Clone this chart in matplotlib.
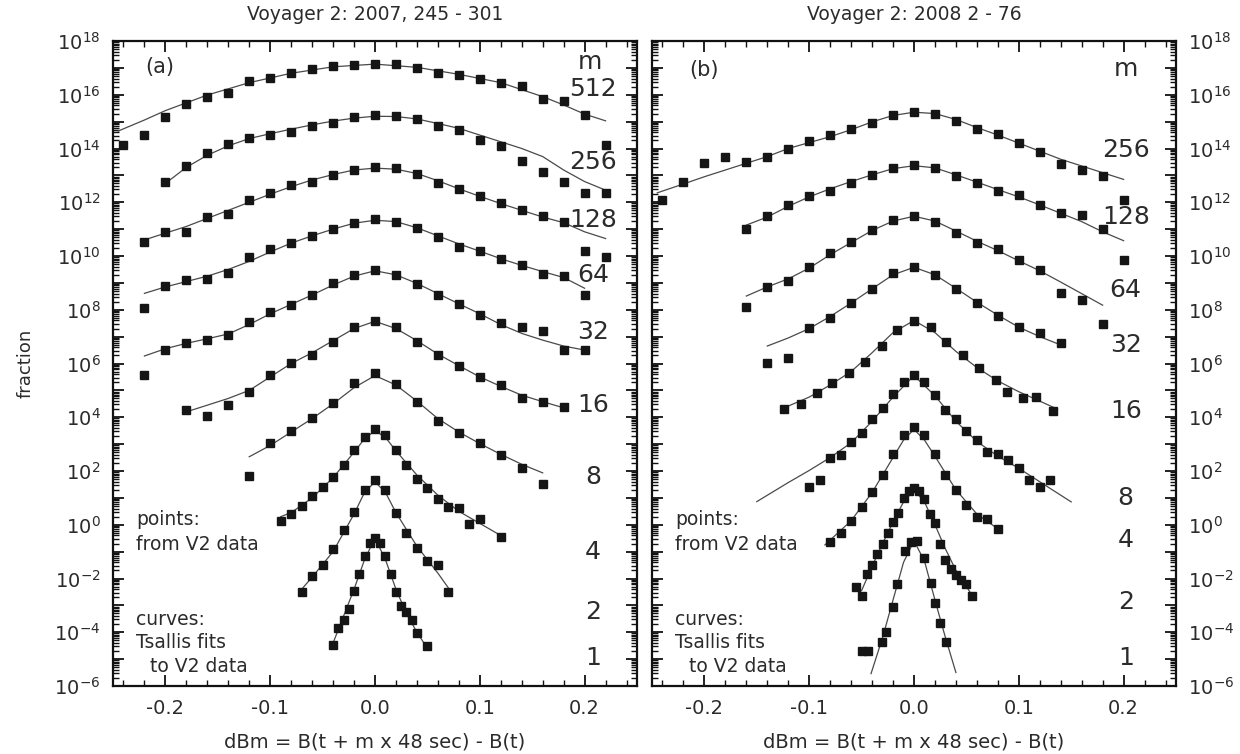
import numpy as np
import matplotlib
matplotlib.use("Agg")
import matplotlib.pyplot as plt
from matplotlib.ticker import LogLocator, MultipleLocator, FuncFormatter, NullFormatter

# values are log10(fraction)
# ---- panel (a): Voyager 2, 2007 day 245-301 ----
a512_px = [-0.24,-0.22,-0.20,-0.18,-0.16,-0.14,-0.12,-0.10,-0.08,-0.06,-0.04,-0.02,0.00,0.02,0.04,0.06,0.08,0.10,0.12,0.14,0.16,0.18,0.20,0.22]
a512_py = [14.13,14.50,15.16,15.66,15.93,16.05,16.52,16.61,16.80,16.95,17.07,17.11,17.14,17.14,16.98,16.82,16.73,16.57,16.45,16.32,15.85,15.77,15.25,14.13]
a512_cx = [-0.245,-0.22,-0.20,-0.16,-0.12,-0.08,-0.04,0.00,0.04,0.08,0.12,0.16,0.18,0.20,0.22]
a512_cy = [14.65,15.06,15.41,15.99,16.45,16.80,17.04,17.14,17.02,16.76,16.45,15.93,15.62,15.28,15.03]

a256_px = [-0.20,-0.18,-0.16,-0.14,-0.12,-0.10,-0.08,-0.06,-0.04,-0.02,0.00,0.02,0.04,0.06,0.08,0.10,0.12,0.14,0.16,0.18,0.20,0.22]
a256_py = [12.76,13.35,13.84,14.17,14.38,14.50,14.63,14.84,14.96,15.16,15.25,15.21,15.08,14.84,14.69,14.32,14.09,13.55,13.14,12.76,12.33,12.33]
a256_cx = [-0.20,-0.18,-0.16,-0.14,-0.12,-0.10,-0.08,-0.06,-0.04,-0.02,0.00,0.02,0.04,0.06,0.08,0.10,0.12,0.14,0.16,0.18,0.20,0.22]
a256_cy = [12.70,13.30,13.75,14.10,14.37,14.55,14.72,14.88,15.02,15.13,15.20,15.19,15.10,14.93,14.75,14.50,14.25,14.00,13.70,13.20,12.77,12.45]

a128_px = [-0.22,-0.20,-0.18,-0.16,-0.14,-0.12,-0.10,-0.08,-0.06,-0.04,-0.02,0.00,0.02,0.04,0.06,0.08,0.10,0.12,0.14,0.16,0.18,0.20,0.22]
a128_py = [10.53,10.90,10.90,11.46,11.56,12.08,12.35,12.64,12.76,13.01,13.20,13.30,13.26,13.05,12.73,12.48,12.23,11.96,11.73,11.49,11.28,10.20,9.97]
a128_cx = [-0.22,-0.20,-0.18,-0.16,-0.14,-0.12,-0.10,-0.08,-0.06,-0.04,-0.02,0.00,0.02,0.04,0.06,0.08,0.10,0.12,0.14,0.16,0.18,0.20,0.22]
a128_cy = [10.60,10.85,11.10,11.40,11.70,12.00,12.30,12.58,12.83,13.03,13.20,13.27,13.23,13.07,12.80,12.50,12.22,11.95,11.70,11.45,11.24,10.90,10.65]

a64_px = [-0.22,-0.20,-0.18,-0.16,-0.14,-0.12,-0.10,-0.08,-0.06,-0.04,-0.02,0.00,0.02,0.04,0.06,0.08,0.10,0.12,0.14,0.16,0.18,0.20]
a64_py = [8.05,8.88,9.10,9.13,9.38,9.97,10.25,10.49,10.74,10.99,11.24,11.36,11.28,11.03,10.69,10.35,10.20,9.87,9.66,9.33,9.25,8.55]
a64_cx = [-0.22,-0.20,-0.18,-0.16,-0.14,-0.12,-0.10,-0.08,-0.06,-0.04,-0.02,0.00,0.02,0.04,0.06,0.08,0.10,0.12,0.14,0.16,0.18,0.20]
a64_cy = [8.61,8.85,9.05,9.25,9.50,9.80,10.15,10.48,10.75,11.00,11.22,11.33,11.28,11.05,10.75,10.45,10.18,9.90,9.65,9.42,9.20,8.80]

a32_px = [-0.22,-0.20,-0.18,-0.16,-0.14,-0.12,-0.10,-0.08,-0.06,-0.04,-0.02,0.00,0.02,0.04,0.06,0.08,0.10,0.12,0.14,0.16,0.18,0.20]
a32_py = [5.57,6.50,6.75,6.87,7.06,7.55,7.93,8.17,8.55,8.98,9.29,9.48,9.29,8.96,8.55,8.21,7.80,7.52,7.34,7.22,6.52,6.50]
a32_cx = [-0.22,-0.20,-0.18,-0.16,-0.14,-0.12,-0.10,-0.08,-0.06,-0.04,-0.02,0.00,0.02,0.04,0.06,0.08,0.10,0.12,0.14,0.16,0.18,0.20]
a32_cy = [6.28,6.55,6.75,6.92,7.10,7.45,7.85,8.20,8.55,8.92,9.25,9.45,9.30,8.98,8.60,8.22,7.85,7.45,7.12,6.87,6.65,6.50]

a16_px = [-0.18,-0.16,-0.14,-0.12,-0.10,-0.08,-0.06,-0.04,-0.02,0.00,0.02,0.04,0.06,0.08,0.10,0.12,0.14,0.16,0.18]
a16_py = [4.27,4.04,4.45,4.95,5.57,6.03,6.31,6.81,7.34,7.59,7.34,6.81,6.31,5.90,5.48,5.20,4.72,4.58,4.39]
a16_cx = [-0.18,-0.16,-0.14,-0.12,-0.10,-0.08,-0.06,-0.04,-0.02,0.00,0.02,0.04,0.06,0.08,0.10,0.12,0.14,0.16,0.18]
a16_cy = [4.20,4.45,4.70,5.00,5.50,6.00,6.40,6.85,7.30,7.57,7.30,6.85,6.35,5.92,5.50,5.15,4.82,4.58,4.35]

a8_px = [-0.12,-0.10,-0.08,-0.06,-0.04,-0.02,0.00,0.02,0.04,0.06,0.08,0.10,0.12,0.14,0.16]
a8_py = [1.81,3.05,3.50,3.99,4.54,5.26,5.65,5.25,4.58,3.87,3.42,3.05,2.59,2.13,1.51]
a8_cx = [-0.12,-0.10,-0.08,-0.06,-0.04,-0.02,0.00,0.02,0.04,0.06,0.08,0.10,0.12,0.14,0.16]
a8_cy = [2.53,2.95,3.45,3.95,4.50,5.10,5.55,5.20,4.60,3.95,3.45,3.02,2.62,2.25,1.93]

a4_px = [-0.09,-0.08,-0.07,-0.06,-0.05,-0.04,-0.03,-0.02,-0.01,0.00,0.01,0.02,0.03,0.04,0.05,0.06,0.07,0.08,0.09,0.10,0.12]
a4_py = [0.13,0.39,0.69,1.06,1.41,1.78,2.22,2.78,3.27,3.55,3.34,2.80,2.22,1.72,1.35,0.94,0.67,0.64,0.02,0.23,-0.45]
a4_cx = [-0.09,-0.08,-0.06,-0.04,-0.02,-0.01,0.00,0.01,0.02,0.04,0.06,0.08,0.10,0.12]
a4_cy = [0.30,0.45,1.00,1.75,2.70,3.20,3.50,3.25,2.75,1.85,1.10,0.50,0.05,-0.40]

a2_px = [-0.07,-0.06,-0.05,-0.04,-0.03,-0.02,-0.01,0.00,0.01,0.02,0.03,0.04,0.05,0.06,0.07]
a2_py = [-2.50,-1.91,-1.50,-0.92,-0.20,0.48,1.31,1.66,1.31,0.44,-0.32,-0.85,-1.34,-1.50,-2.50]
a2_cx = [-0.07,-0.06,-0.04,-0.02,-0.01,0.00,0.01,0.02,0.04,0.06,0.07]
a2_cy = [-2.40,-1.95,-1.00,0.40,1.20,1.60,1.20,0.45,-0.80,-1.80,-2.35]

a1_px = [-0.04,-0.035,-0.03,-0.025,-0.02,-0.015,-0.01,-0.005,0.00,0.005,0.01,0.015,0.02,0.025,0.03,0.035,0.04,0.05]
a1_py = [-4.48,-3.85,-3.55,-3.12,-2.46,-1.84,-1.17,-0.67,-0.50,-0.68,-1.17,-1.84,-2.50,-3.03,-3.24,-3.53,-4.02,-4.52]
a1_cx = [-0.04,-0.03,-0.02,-0.01,0.00,0.01,0.02,0.03,0.04,0.05]
a1_cy = [-4.40,-3.40,-2.40,-1.30,-0.50,-1.30,-2.40,-3.30,-4.00,-4.60]

# ---- panel (b): Voyager 2, 2008 day 2-76 ----
b256_px = [-0.24,-0.22,-0.20,-0.18,-0.16,-0.14,-0.12,-0.10,-0.08,-0.06,-0.04,-0.02,0.00,0.02,0.04,0.06,0.08,0.10,0.12,0.14,0.16,0.18,0.20]
b256_py = [12.08,12.76,13.47,13.67,13.51,13.69,14.00,14.28,14.50,14.71,14.96,15.25,15.37,15.28,15.03,14.71,14.54,14.19,13.88,13.42,13.20,12.98,12.08]
b256_cx = [-0.245,-0.22,-0.20,-0.18,-0.16,-0.14,-0.12,-0.10,-0.08,-0.06,-0.04,-0.02,0.00,0.02,0.04,0.06,0.08,0.10,0.12,0.14,0.16,0.18,0.20]
b256_cy = [12.35,12.68,12.95,13.20,13.45,13.70,14.00,14.22,14.44,14.70,14.99,15.23,15.35,15.30,15.08,14.78,14.50,14.20,13.90,13.60,13.35,13.10,12.85]

b128_px = [-0.16,-0.14,-0.12,-0.10,-0.08,-0.06,-0.04,-0.02,0.00,0.02,0.04,0.06,0.08,0.10,0.12,0.14,0.16,0.18,0.20]
b128_py = [10.99,11.49,11.90,12.23,12.43,12.73,13.01,13.26,13.38,13.26,12.98,12.70,12.43,12.27,11.90,11.61,11.52,10.99,9.85]
b128_cx = [-0.16,-0.14,-0.12,-0.10,-0.08,-0.06,-0.04,-0.02,0.00,0.02,0.04,0.06,0.08,0.10,0.12,0.14,0.16,0.18,0.20]
b128_cy = [11.15,11.45,11.85,12.20,12.50,12.77,13.02,13.25,13.36,13.28,13.02,12.75,12.47,12.20,11.90,11.59,11.28,10.90,10.57]

b64_px = [-0.16,-0.14,-0.12,-0.10,-0.08,-0.06,-0.04,-0.02,0.00,0.02,0.04,0.06,0.08,0.10,0.12,0.14,0.16,0.18]
b64_py = [8.11,8.83,9.08,9.60,10.12,10.53,10.97,11.34,11.49,11.28,10.87,10.47,10.25,9.85,9.48,8.63,8.38,7.47]
b64_cx = [-0.16,-0.14,-0.12,-0.10,-0.08,-0.06,-0.04,-0.02,0.00,0.02,0.04,0.06,0.08,0.10,0.12,0.14,0.16,0.18]
b64_cy = [8.51,8.85,9.15,9.55,10.05,10.50,10.95,11.30,11.48,11.30,10.93,10.55,10.20,9.82,9.45,9.03,8.60,8.17]

b32_px = [-0.14,-0.12,-0.10,-0.08,-0.06,-0.04,-0.02,0.00,0.02,0.04,0.06,0.08,0.10,0.12,0.14]
b32_py = [6.03,6.19,7.31,7.71,8.24,8.79,9.35,9.60,9.29,8.76,8.24,7.76,7.34,7.12,6.77]
b32_cx = [-0.14,-0.12,-0.10,-0.08,-0.06,-0.04,-0.02,0.00,0.02,0.04,0.06,0.08,0.10,0.12,0.14]
b32_cy = [6.65,6.95,7.30,7.75,8.25,8.78,9.30,9.58,9.30,8.80,8.28,7.80,7.35,7.00,6.69]

b16_px = [-0.124,-0.108,-0.093,-0.078,-0.062,-0.047,-0.031,-0.016,0.000,0.016,0.031,0.047,0.062,0.078,0.089,0.104,0.116,0.133]
b16_py = [4.29,4.51,4.89,5.26,5.63,6.06,6.65,7.24,7.60,7.35,6.80,6.30,5.85,5.40,4.95,4.70,4.75,4.24]
b16_cx = [-0.124,-0.10,-0.08,-0.06,-0.04,-0.02,0.00,0.02,0.04,0.06,0.08,0.10,0.12,0.137]
b16_cy = [4.35,4.75,5.20,5.70,6.40,7.15,7.60,7.15,6.45,5.85,5.35,4.95,4.60,4.30]

b8_px = [-0.10,-0.09,-0.08,-0.07,-0.06,-0.05,-0.04,-0.03,-0.02,-0.01,0.00,0.01,0.02,0.03,0.04,0.05,0.06,0.07,0.08,0.09,0.10,0.11,0.12,0.13]
b8_py = [1.39,1.66,2.47,2.59,3.09,3.40,3.92,4.36,4.86,5.30,5.57,5.32,4.82,4.27,3.92,3.50,3.15,2.71,2.65,2.40,2.13,1.66,1.41,1.66]
b8_cx = [-0.15,-0.12,-0.10,-0.08,-0.06,-0.04,-0.02,0.00,0.02,0.04,0.06,0.08,0.10,0.12,0.15]
b8_cy = [0.86,1.57,2.02,2.50,3.05,3.85,4.75,5.55,4.80,3.85,3.10,2.55,2.10,1.60,0.85]

b4_px = [-0.08,-0.07,-0.06,-0.05,-0.04,-0.03,-0.02,-0.01,0.00,0.01,0.02,0.03,0.04,0.05,0.06,0.07,0.08]
b4_py = [-0.64,-0.32,0.15,0.67,1.23,1.85,2.65,3.34,3.62,3.34,2.63,1.85,1.29,0.73,0.29,0.20,-0.14]
b4_cx = [-0.085,-0.06,-0.04,-0.02,-0.01,0.00,0.01,0.02,0.04,0.06,0.08]
b4_cy = [-0.75,0.15,1.20,2.50,3.15,3.55,3.15,2.55,1.30,0.40,-0.15]

b2_px = [-0.055,-0.05,-0.045,-0.04,-0.035,-0.03,-0.025,-0.02,-0.015,-0.01,-0.005,0.00,0.005,0.01,0.015,0.02,0.025,0.03,0.035,0.04,0.045,0.05,0.055]
b2_py = [-2.30,-2.65,-1.85,-1.50,-1.10,-0.72,-0.30,0.11,0.45,0.99,1.25,1.35,1.25,0.95,0.39,0.05,-0.70,-1.30,-1.63,-1.88,-2.04,-2.19,-2.66]
b2_cx = [-0.05,-0.04,-0.03,-0.02,-0.01,0.00,0.01,0.02,0.03,0.04,0.05,0.055]
b2_cy = [-2.45,-1.55,-0.70,0.10,0.85,1.30,0.85,0.00,-0.90,-1.70,-2.30,-2.60]

b1_px = [-0.050,-0.044,-0.031,-0.027,-0.020,-0.016,-0.009,-0.003,0.003,0.010,0.016,0.020,0.025,0.031]
b1_py = [-4.69,-4.69,-4.36,-3.99,-3.05,-2.19,-0.97,-0.64,-0.60,-1.25,-2.16,-2.93,-3.65,-4.36]
b1_cx = [-0.041,-0.03,-0.02,-0.01,0.00,0.01,0.02,0.03,0.04]
b1_cy = [-5.54,-4.20,-2.80,-1.40,-0.60,-1.35,-2.80,-4.20,-5.50]

a_labels = ['512', '256', '128', '64', '32', '16', '8', '4', '2', '1']
a_label_y = [16.21, 13.50, 11.34, 9.29, 7.17, 4.46, 1.78, -1.01, -3.25, -4.96]
b_labels = ['256', '128', '64', '32', '16', '8', '4', '2', '1']
b_label_y = [13.94, 11.45, 8.73, 6.69, 4.24, 0.99, -0.57, -2.86, -4.96]

a_series = [(a512_px, a512_py, a512_cx, a512_cy), (a256_px, a256_py, a256_cx, a256_cy),
            (a128_px, a128_py, a128_cx, a128_cy), (a64_px, a64_py, a64_cx, a64_cy),
            (a32_px, a32_py, a32_cx, a32_cy), (a16_px, a16_py, a16_cx, a16_cy),
            (a8_px, a8_py, a8_cx, a8_cy), (a4_px, a4_py, a4_cx, a4_cy),
            (a2_px, a2_py, a2_cx, a2_cy), (a1_px, a1_py, a1_cx, a1_cy)]
b_series = [(b256_px, b256_py, b256_cx, b256_cy), (b128_px, b128_py, b128_cx, b128_cy),
            (b64_px, b64_py, b64_cx, b64_cy), (b32_px, b32_py, b32_cx, b32_cy),
            (b16_px, b16_py, b16_cx, b16_cy), (b8_px, b8_py, b8_cx, b8_cy),
            (b4_px, b4_py, b4_cx, b4_cy), (b2_px, b2_py, b2_cx, b2_cy),
            (b1_px, b1_py, b1_cx, b1_cy)]

TXT = '#2b2b2b'
plt.rcParams['font.family'] = ['DejaVu Sans']
plt.rcParams['mathtext.fontset'] = 'dejavusans'


def exp_fmt(v, pos):
    e = int(round(np.log10(v)))
    if e % 2:
        return ''
    return r'$10^{%d}$' % e


def style_axis(ax, right_labels):
    ax.set_yscale('log')
    ax.set_xlim(-0.25, 0.25)
    ax.set_ylim(1e-6, 1e18)
    ax.xaxis.set_major_locator(MultipleLocator(0.1))
    ax.xaxis.set_minor_locator(MultipleLocator(0.02))
    ax.xaxis.set_major_formatter(FuncFormatter(lambda v, p: '%.1f' % v))
    ax.yaxis.set_major_locator(LogLocator(base=10, subs=(1.0,), numticks=40))
    ax.yaxis.set_minor_locator(LogLocator(base=10, subs=np.arange(2, 10), numticks=40))
    ax.yaxis.set_major_formatter(FuncFormatter(exp_fmt))
    ax.yaxis.set_minor_formatter(NullFormatter())
    ax.tick_params(which='both', direction='in', top=True, bottom=True, left=True, right=True,
                   labelleft=not right_labels, labelright=right_labels, colors='#111111',
                   labelcolor=TXT, labelsize=14)
    ax.tick_params(which='major', length=8, width=1.3, pad=9)
    ax.tick_params(which='minor', length=4.5, width=1.0)
    for s in ax.spines.values():
        s.set_linewidth(1.6)
        s.set_color('#111111')
    ax.set_xlabel('dBm = B(t + m x 48 sec) - B(t)', fontsize=14, color=TXT, labelpad=11)


def draw_panel(ax, series):
    for px, py, cx, cy in series:
        ax.plot(cx, np.power(10.0, cy), '-', color='#4a4a4a', lw=0.9, zorder=2)
        ax.plot(px, np.power(10.0, py), 's', color='#151515', ms=6.2, mec='#151515', zorder=3)


fig = plt.figure(figsize=(12.4, 7.54), dpi=100)
ax1 = fig.add_axes([113 / 1240, 1 - 686 / 754, 524 / 1240, 645 / 754])
ax2 = fig.add_axes([652 / 1240, 1 - 686 / 754, 524 / 1240, 645 / 754])

draw_panel(ax1, a_series)
draw_panel(ax2, b_series)
style_axis(ax1, False)
style_axis(ax2, True)

ax1.set_title('Voyager 2: 2007, 245 - 301', fontsize=13.5, color=TXT, pad=15)
ax2.set_title('Voyager 2: 2008 2 - 76', fontsize=13.5, color=TXT, pad=15)
ax1.set_ylabel('fraction', fontsize=13, color=TXT)
ax1.yaxis.set_label_coords(-0.15, 0.5)

ax1.text(-0.205, 10 ** 17.03, '(a)', fontsize=15, color=TXT, ha='center', va='center')
ax2.text(-0.200, 10 ** 16.92, '(b)', fontsize=15, color=TXT, ha='center', va='center')
ax1.text(0.205, 10 ** 17.22, 'm', fontsize=18, color=TXT, ha='center', va='center')
ax2.text(0.202, 10 ** 16.96, 'm', fontsize=18, color=TXT, ha='center', va='center')
for lab, y in zip(a_labels, a_label_y):
    ax1.text(0.208, 10 ** y, lab, fontsize=18, color=TXT, ha='center', va='center')
for lab, y in zip(b_labels, b_label_y):
    ax2.text(0.202, 10 ** y, lab, fontsize=18, color=TXT, ha='center', va='center')

for ax in (ax1, ax2):
    ax.text(-0.228, 10 ** 0.18, 'points:', fontsize=13.5, color=TXT, ha='left', va='center')
    ax.text(-0.228, 10 ** -0.75, 'from V2 data', fontsize=13.5, color=TXT, ha='left', va='center')
    ax.text(-0.228, 10 ** -3.54, 'curves:', fontsize=13.5, color=TXT, ha='left', va='center')
    ax.text(-0.228, 10 ** -4.40, 'Tsallis fits', fontsize=13.5, color=TXT, ha='left', va='center')
    ax.text(-0.215, 10 ** -5.29, 'to V2 data', fontsize=13.5, color=TXT, ha='left', va='center')

fig.savefig('out.png', dpi=100)
